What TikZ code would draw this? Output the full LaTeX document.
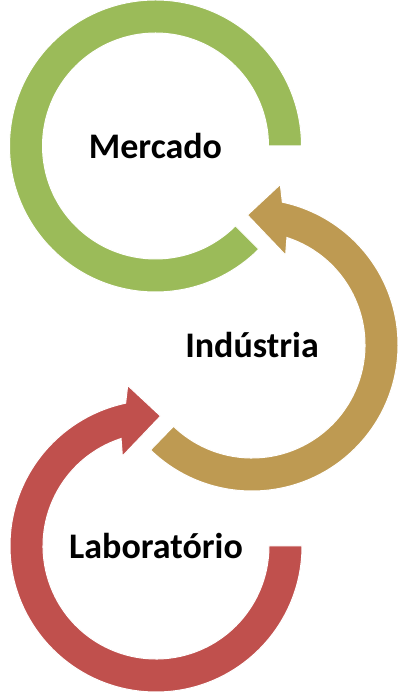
\documentclass[tikz,border=0pt]{standalone}
\usepackage{fontspec}
\setmainfont{Carlito}
\usepackage{tikz}

\definecolor{verde}{HTML}{9BBB59}
\definecolor{ouro}{HTML}{BE9A52}
\definecolor{vermelho}{HTML}{C0504D}

\begin{document}
\begin{tikzpicture}[x=1pt, y=1pt, ring/.style={draw=white, line width=1pt}, txt/.style={font=\bfseries\fontsize{36}{40}\selectfont}]
      \useasboundingbox (0, 0) rectangle (398, 693);
      \node[txt] (merc) at (155.5, 547) {Mercado};
      \node[txt] (ind) at (252, 348) {Indústria};
      \node[txt] (lab) at (156, 147) {Laboratório};
      % rings around the three names
      \begin{scope}[shift={(merc.center)}]
        \path[ring, fill=verde] (0:146) arc[start angle=0, end angle=315, radius=146] -- (315:113) arc[start angle=315, end angle=0, radius=113] -- cycle;
      \end{scope}
      \begin{scope}[shift={(ind.center)}]
        \path[ring, fill=ouro] (-134:146) arc[start angle=-134, end angle=78, radius=146] -- (80:163) -- (92:130) -- (69.5:96) -- (72:113) arc[start angle=72, end angle=-134, radius=113] -- cycle;
      \end{scope}
      \begin{scope}[shift={(lab.center)}]
        \path[ring, fill=vermelho] (0:146) arc[start angle=0, end angle=-258, radius=146] -- (-260:163) -- (-272:130) -- (-249.5:96) -- (-252:113) arc[start angle=-252, end angle=0, radius=113] -- cycle;
      \end{scope}
\end{tikzpicture}
\end{document}
